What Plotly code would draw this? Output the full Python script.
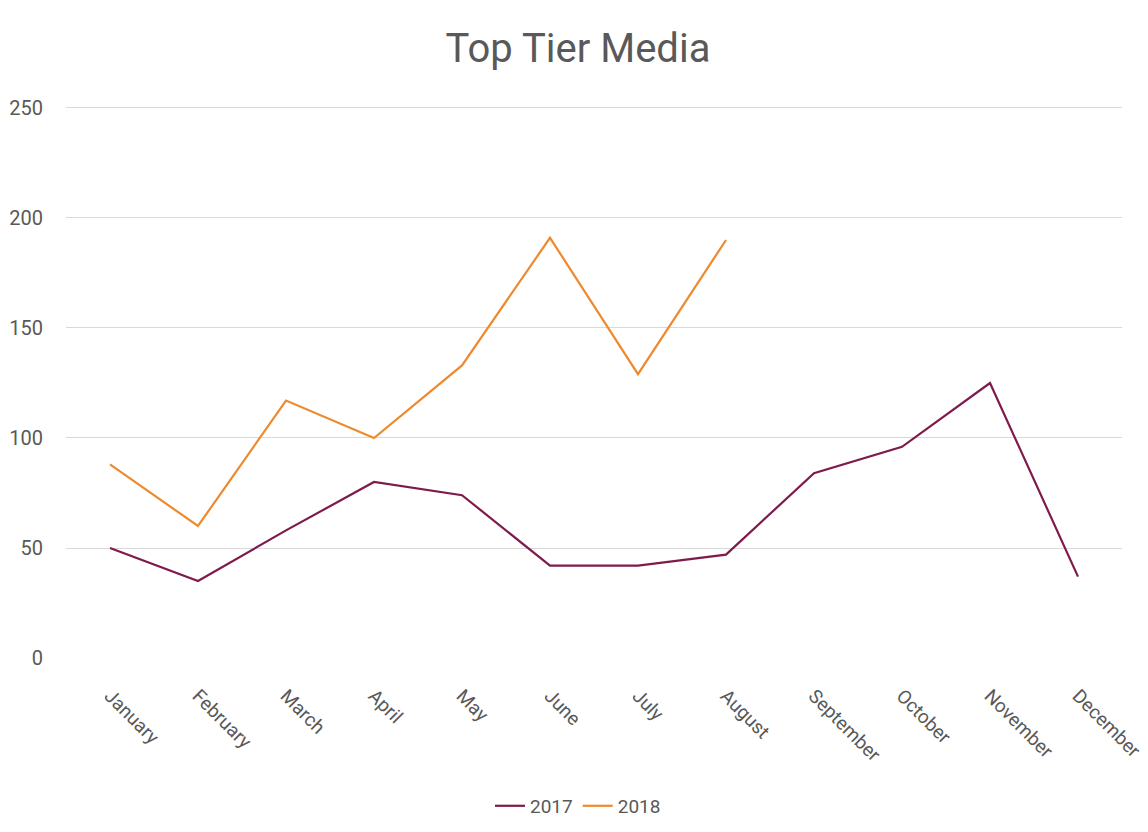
import plotly.graph_objects as go

months = ["January", "February", "March", "April", "May", "June", "July",
          "August", "September", "October", "November", "December"]
values_2017 = [50, 35, 58, 80, 74, 42, 42, 47, 84, 96, 125, 37]
values_2018 = [88, 60, 117, 100, 133, 191, 129, 190]
y_ticks = [0, 50, 100, 150, 200, 250]

FONT = "Roboto, Liberation Sans Narrow, sans-serif"
GREY = "#595959"

# the page body adds an 8px offset, so the figure is sized to fit the window
fig = go.Figure()
fig.add_trace(go.Scatter(x=months, y=values_2017, mode="lines", name="2017",
                         line=dict(color="#7E1B4C", width=2.2)))
fig.add_trace(go.Scatter(x=months[:len(values_2018)], y=values_2018, mode="lines", name="2018",
                         line=dict(color="#EE8A2E", width=2.2)))

fig.update_layout(
    width=1140, height=824,
    paper_bgcolor="white", plot_bgcolor="white",
    margin=dict(l=58, r=26, t=98, b=174, autoexpand=False),
    title=dict(text="Top Tier Media", x=0.5, xanchor="center", y=0.951, yanchor="middle",
               font=dict(family=FONT, size=40, color=GREY)),
    font=dict(family=FONT, color=GREY, size=18),
    legend=dict(orientation="h", x=0.5, xref="container", xanchor="center",
                y=-0.268, yanchor="middle",
                font=dict(size=19, color=GREY), itemwidth=30),
    showlegend=True,
)
fig.update_xaxes(categoryorder="array", categoryarray=months, range=[-0.5, 11.5],
                 tickangle=45, showgrid=False, showline=False, zeroline=False,
                 automargin=False, ticklabelstandoff=22,
                 tickfont=dict(size=19, color=GREY), ticks="")
fig.update_yaxes(range=[0, 250.9], tickvals=y_ticks, showgrid=True, gridcolor="#D9D9D9",
                 gridwidth=1, zeroline=False, showline=False, ticks="",
                 automargin=False, ticklabelstandoff=22,
                 tickfont=dict(size=20, color=GREY))

fig.write_html("out.html")
